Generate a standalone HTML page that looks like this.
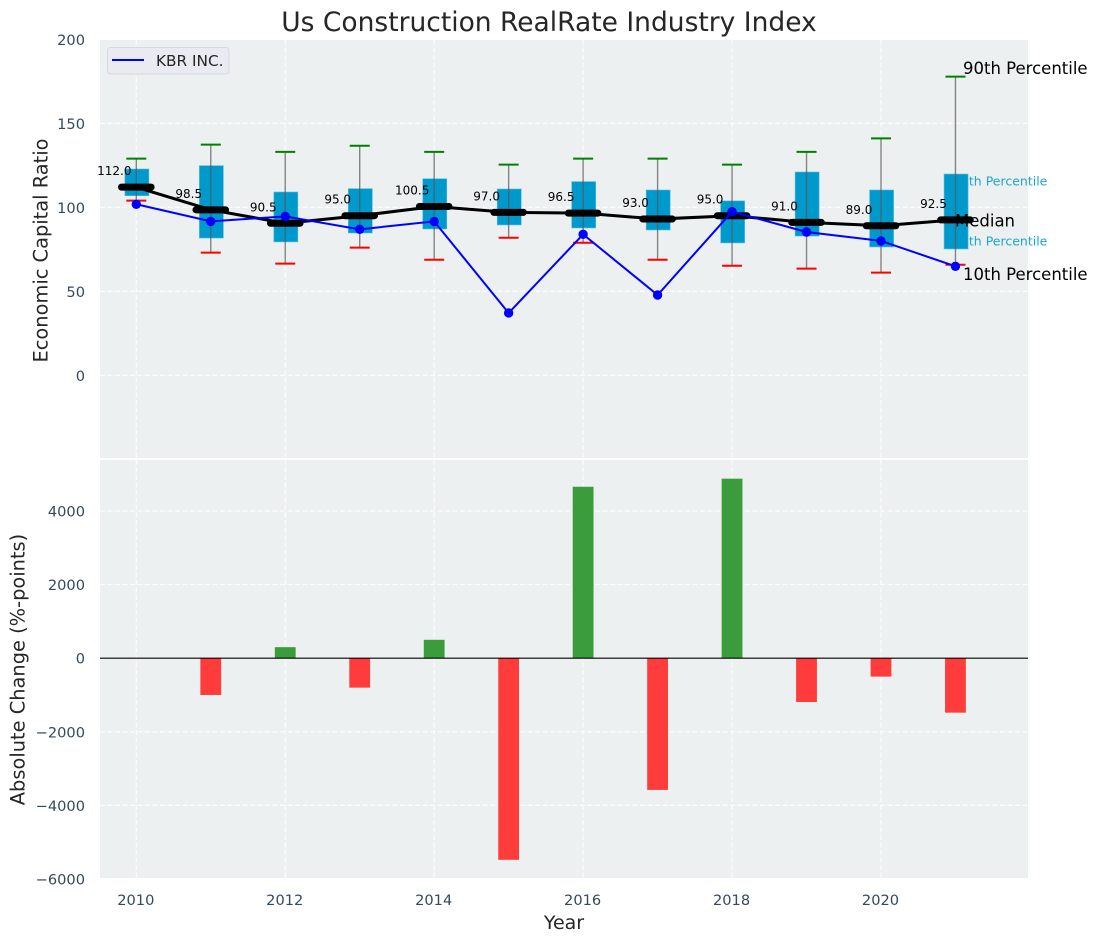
<!DOCTYPE html>
<html>
<head>
<meta charset="utf-8">
<title>Us Construction RealRate Industry Index</title>
<style>
html,body{margin:0;padding:0;background:#fff;}
svg{display:block;font-family:"DejaVu Sans","Liberation Sans",sans-serif;}
</style>
</head>
<body>
<svg id="chart" xmlns="http://www.w3.org/2000/svg" width="1098" height="942" viewBox="0 0 1098 942">
  <defs>
    <clipPath id="clip-top"><rect x="100" y="40" width="928" height="418"/></clipPath>
    <clipPath id="clip-bottom"><rect x="100" y="460" width="928" height="418"/></clipPath>
  </defs>
  <rect x="100" y="40" width="928" height="418" fill="#ecf0f1"/>
  <rect x="100" y="460" width="928" height="418" fill="#ecf0f1"/>
  <g id="grid"></g>
  <g id="notes">
    <text x="953" y="185.500" font-size="12.500" fill="#1fa5d2">75th Percentile</text>
    <text x="953" y="245.500" font-size="12.500" fill="#1fa5d2">25th Percentile</text>
  </g>
  <g id="boxes" clip-path="url(#clip-top)"></g>
  <g id="whiskers" clip-path="url(#clip-top)"></g>
  <g id="median" clip-path="url(#clip-top)"></g>
  <g id="company" clip-path="url(#clip-top)"></g>
  <g id="medianLabels"></g>
  <g id="bars" clip-path="url(#clip-bottom)"></g>
  <g id="ticks" font-size="14.6" fill="#34495e"></g>
  <text x="963" y="74" font-size="16.500" fill="#000">90th Percentile</text>
  <text x="955" y="226.500" font-size="16.500" fill="#000">Median</text>
  <text x="963" y="280" font-size="16.500" fill="#000">10th Percentile</text>
  <text x="549" y="31" font-size="26.500" text-anchor="middle" fill="#262626">Us Construction RealRate Industry Index</text>
  <text transform="translate(47.500,250.500) rotate(-90)" font-size="19.400" text-anchor="middle" fill="#262626">Economic Capital Ratio</text>
  <text transform="translate(24.500,669.500) rotate(-90)" font-size="19.400" text-anchor="middle" fill="#262626">Absolute Change (%-points)</text>
  <text x="564" y="929" font-size="19" text-anchor="middle" fill="#262626">Year</text>
  <g>
    <rect x="107.500" y="47.500" width="121.500" height="26.500" rx="3" fill="#eaeaf2" stroke="#d8d8e0" stroke-width="1"/>
    <line x1="112" y1="60" x2="144" y2="60" stroke="#0000ff" stroke-width="2"/>
    <text x="156" y="66" font-size="15.300" fill="#262626">KBR INC.</text>
  </g>
</svg>
<script>
const years = [2010, 2011, 2012, 2013, 2014, 2015, 2016, 2017, 2018, 2019, 2020, 2021];
const p90 = [129, 137.3, 133, 136.6, 133, 125.4, 129, 129, 125.4, 133, 141, 177.8];
const q3 = [122.8, 124.8, 109.1, 111.1, 117, 110.9, 115.3, 110.3, 103.8, 121, 110.3, 119.8];
const medians = [112.0, 98.5, 90.5, 95.0, 100.5, 97.0, 96.5, 93.0, 95.0, 91.0, 89.0, 92.5];
const q1 = [106.9, 81.7, 79.4, 84.7, 87.1, 89.5, 87.7, 86.5, 78.8, 82.9, 76.4, 75.2];
const p10 = [104, 73, 66.5, 76, 68.8, 81.9, 78.9, 68.8, 65.2, 63.5, 61.1, 65.8];
const company = [101.8, 91.6, 94.6, 86.9, 91.6, 37.1, 83.9, 47.8, 97.4, 85.3, 80, 64.9];
const changes = [0, -1000, 300, -800, 500, -5480, 4660, -3580, 4880, -1190, -500, -1480];
const xTickValues = [2010, 2012, 2014, 2016, 2018, 2020];
const topTickValues = [200, 150, 100, 50, 0];
const bottomTickValues = [4000, 2000, 0, -2000, -4000, -6000];

const NS = 'http://www.w3.org/2000/svg';
const xAxis = v => 136.3 + 74.47 * (v - 2010);
const yTop = v => 375.3 - 1.68 * v;
const yBottom = v => 658.2 - 0.03679 * v;
const fmt = v => String(v).replace('-', '\u2212');

function make(tag, parent, attrs, text) {
  const el = document.createElementNS(NS, tag);
  for (const k in attrs) el.setAttribute(k, attrs[k]);
  if (text !== undefined) el.textContent = text;
  document.getElementById(parent).appendChild(el);
  return el;
}

const gridStyle = {stroke: '#ffffff', 'stroke-width': 1.1, 'stroke-dasharray': '5 2.5', opacity: 0.9};

xTickValues.forEach(v => {
  const a = make('line', 'grid', {x1: xAxis(v), x2: xAxis(v), y1: 40, y2: 458, ...gridStyle});
  
  
  const b = make('line', 'grid', {x1: xAxis(v), x2: xAxis(v), y1: 460, y2: 878, ...gridStyle});
  
  
  const t = make('text', 'ticks', {x: xAxis(v) - 0.5, y: 905, 'text-anchor': 'middle'}, v);
  
  
});

topTickValues.forEach(v => {
  if (v !== 200) {
    const g = make('line', 'grid', {x1: 100, x2: 1028, y1: yTop(v), y2: yTop(v), ...gridStyle});
    
    
  }
  const t = make('text', 'ticks', {x: 85, y: yTop(v) + 5.5, 'text-anchor': 'end'}, fmt(v));
  
  
});

bottomTickValues.forEach(v => {
  if (v !== -6000) {
    const g = make('line', 'grid', {x1: 100, x2: 1028, y1: yBottom(v), y2: yBottom(v), ...gridStyle});
    
    
  }
  const t = make('text', 'ticks', {x: 85, y: yBottom(v) + 5.5, 'text-anchor': 'end'}, fmt(v));
  
  
});

years.forEach((yr, i) => {
  const cx = xAxis(yr);
  const box = make('rect', 'boxes', {
    x: cx - 11.4, width: 24, y: yTop(q3[i]), height: yTop(q1[i]) - yTop(q3[i]),
    fill: '#0099cc', stroke: '#55bbdd', 'stroke-width': 0.6
  });
  
  

  const stem = make('line', 'whiskers', {x1: cx, x2: cx, y1: yTop(p90[i]), y2: yTop(p10[i]), stroke: '#555', 'stroke-opacity': 0.7, 'stroke-width': 1.4});
  
  

  const hi = make('line', 'whiskers', {x1: cx - 10, x2: cx + 10, y1: yTop(p90[i]), y2: yTop(p90[i]), stroke: '#008000', 'stroke-width': 2});
  
  

  const lo = make('line', 'whiskers', {x1: cx - 10, x2: cx + 10, y1: yTop(p10[i]), y2: yTop(p10[i]), stroke: '#ff0000', 'stroke-width': 2});
  
  

  const lab = make('text', 'medianLabels', {x: cx - 22, y: yTop(medians[i]) - 12, 'font-size': 12, 'text-anchor': 'middle', fill: '#000'}, medians[i].toFixed(1));
  
  
});

const medLine = make('polyline', 'median', {
  points: years.map((yr, i) => xAxis(yr) + ',' + yTop(medians[i])).join(' '),
  fill: 'none', stroke: '#000', 'stroke-width': 3
});



years.forEach((yr, i) => {
  const m = make('line', 'median', {x1: xAxis(yr) - 14.8, x2: xAxis(yr) + 14.8, y1: yTop(medians[i]), y2: yTop(medians[i]), stroke: '#000', 'stroke-width': 7, 'stroke-linecap': 'round'});
  
  
});

const coLine = make('polyline', 'company', {
  points: years.map((yr, i) => xAxis(yr) + ',' + yTop(company[i])).join(' '),
  fill: 'none', stroke: '#0000ff', 'stroke-width': 2
});



years.forEach((yr, i) => {
  const c = make('circle', 'company', {cx: xAxis(yr), cy: yTop(company[i]), r: 4.7, fill: '#0000ff'});
  
  
});

years.forEach((yr, i) => {
  if (changes[i] === 0) return;
  const y0 = yBottom(0);
  const y1 = yBottom(changes[i]);
  const b = make('rect', 'bars', {
    x: xAxis(yr) - 10.4, width: 20.8,
    y: Math.min(y0, y1), height: Math.abs(y1 - y0),
    fill: changes[i] > 0 ? '#3b9c3c' : '#ff3c3c'
  });
  
  
});

const zero = make('line', 'bars', {x1: 100, x2: 1028, y1: yBottom(0), y2: yBottom(0), stroke: '#000', 'stroke-width': 1.2});


</script>
</body>
</html>
